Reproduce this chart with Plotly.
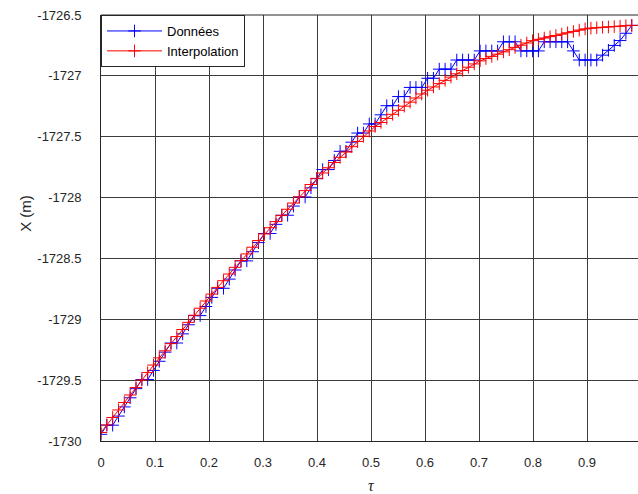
import plotly.graph_objects as go

# Parameter tau (sample positions)
tau = [0.0, 0.0108, 0.0216, 0.0324, 0.0432, 0.054, 0.0648, 0.0756, 0.0864, 0.0972,
       0.108, 0.1188, 0.1296, 0.1404, 0.1512, 0.162, 0.1728, 0.1836, 0.1944, 0.2052,
       0.216, 0.2268, 0.2376, 0.2484, 0.2592, 0.27, 0.2808, 0.2916, 0.3024, 0.3132,
       0.324, 0.3348, 0.3456, 0.3564, 0.3672, 0.378, 0.3888, 0.3996, 0.4104, 0.4212,
       0.432, 0.4428, 0.4536, 0.4644, 0.4752, 0.486, 0.4968, 0.5076, 0.5184, 0.5292,
       0.54, 0.5508, 0.5616, 0.5724, 0.5832, 0.594, 0.6048, 0.6156, 0.6264, 0.6372,
       0.648, 0.6588, 0.6696, 0.6804, 0.6912, 0.702, 0.7128, 0.7236, 0.7344, 0.7452,
       0.756, 0.7668, 0.7776, 0.7884, 0.7992, 0.81, 0.8208, 0.8316, 0.8424, 0.8532,
       0.864, 0.8748, 0.8856, 0.8964, 0.9072, 0.918, 0.9288, 0.9396, 0.9504, 0.9612,
       0.972, 0.9828]

# Measured data (blue, "Données")
x_data = [-1729.945, -1729.87, -1729.87, -1729.795, -1729.72, -1729.645, -1729.57, -1729.495, -1729.495, -1729.42,
          -1729.345, -1729.27, -1729.195, -1729.195, -1729.12, -1729.045, -1728.97, -1728.97, -1728.895, -1728.82,
          -1728.745, -1728.745, -1728.67, -1728.595, -1728.52, -1728.52, -1728.445, -1728.37, -1728.295, -1728.295,
          -1728.22, -1728.145, -1728.145, -1728.07, -1727.995, -1727.995, -1727.92, -1727.845, -1727.77, -1727.77,
          -1727.695, -1727.62, -1727.62, -1727.545, -1727.47, -1727.47, -1727.395, -1727.395, -1727.32, -1727.245,
          -1727.245, -1727.17, -1727.17, -1727.095, -1727.095, -1727.095, -1727.02, -1727.02, -1726.945, -1726.945,
          -1726.945, -1726.87, -1726.87, -1726.87, -1726.87, -1726.795, -1726.795, -1726.795, -1726.795, -1726.72,
          -1726.72, -1726.72, -1726.795, -1726.795, -1726.795, -1726.795, -1726.72, -1726.72, -1726.72, -1726.72,
          -1726.72, -1726.795, -1726.87, -1726.87, -1726.87, -1726.87, -1726.83, -1726.79, -1726.75, -1726.71,
          -1726.65, -1726.585]

# Interpolated curve (red, "Interpolation")
x_interp = [-1729.930, -1729.868, -1729.807, -1729.745, -1729.684, -1729.622, -1729.561, -1729.499, -1729.438, -1729.376,
            -1729.317, -1729.259, -1729.200, -1729.142, -1729.084, -1729.025, -1728.967, -1728.909, -1728.850, -1728.793,
            -1728.738, -1728.683, -1728.628, -1728.573, -1728.518, -1728.463, -1728.408, -1728.353, -1728.299, -1728.248,
            -1728.197, -1728.146, -1728.096, -1728.045, -1727.994, -1727.943, -1727.893, -1727.842, -1727.798, -1727.755,
            -1727.712, -1727.669, -1727.626, -1727.582, -1727.539, -1727.496, -1727.453, -1727.416, -1727.383, -1727.350,
            -1727.316, -1727.283, -1727.249, -1727.216, -1727.182, -1727.149, -1727.118, -1727.091, -1727.064, -1727.037,
            -1727.010, -1726.983, -1726.956, -1726.929, -1726.902, -1726.877, -1726.858, -1726.840, -1726.822, -1726.803,
            -1726.785, -1726.766, -1726.748, -1726.730, -1726.711, -1726.700, -1726.689, -1726.678, -1726.668, -1726.657,
            -1726.646, -1726.635, -1726.624, -1726.614, -1726.608, -1726.605, -1726.601, -1726.598, -1726.595, -1726.592,
            -1726.588, -1726.585]

x_tick_vals = [0, 0.1, 0.2, 0.3, 0.4, 0.5, 0.6, 0.7, 0.8, 0.9]
x_tick_text = ["0", "0.1", "0.2", "0.3", "0.4", "0.5", "0.6", "0.7", "0.8", "0.9"]
y_tick_vals = [-1730, -1729.5, -1729, -1728.5, -1728, -1727.5, -1727, -1726.5]
y_tick_text = ["-1730", "-1729.5", "-1729", "-1728.5", "-1728", "-1727.5", "-1727", "-1726.5"]

FONT = "Liberation Sans, Arial, sans-serif"
AX = "#262626"
GRID = "#3c3c3c"

fig = go.Figure()
fig.add_trace(go.Scatter(
    x=tau, y=x_data, mode="lines+markers", name="Données",
    line=dict(color="#0000FF", width=1),
    marker=dict(symbol="cross-thin", size=9, color="#0000FF", line=dict(width=1, color="#0000FF")),
))
fig.add_trace(go.Scatter(
    x=tau, y=x_interp, mode="lines+markers", name="Interpolation",
    line=dict(color="#FF0000", width=1),
    marker=dict(symbol="cross-thin", size=9, color="#FF0000", line=dict(width=1, color="#FF0000")),
))

fig.update_layout(
    width=638, height=494,
    margin=dict(l=101, r=0, t=15, b=53, pad=0),
    paper_bgcolor="white", plot_bgcolor="white",
    font=dict(family=FONT, size=13, color=AX),
    showlegend=True,
    legend=dict(x=0, y=1, xanchor="left", yanchor="top",
                bgcolor="white", bordercolor=AX, borderwidth=1,
                font=dict(family=FONT, size=13, color="black"),
                itemwidth=55, tracegroupgap=0),
    xaxis=dict(range=[0, 0.9944], tickvals=x_tick_vals, ticktext=x_tick_text,
               automargin=False,
               showgrid=True, gridcolor=GRID, gridwidth=1, zeroline=False,
               showline=True, linecolor=AX, linewidth=1, ticks="",
               ticklabelstandoff=9, tickfont=dict(size=13, color=AX)),
    yaxis=dict(range=[-1730, -1726.5], tickvals=y_tick_vals, ticktext=y_tick_text,
               automargin=False,
               showgrid=True, gridcolor=GRID, gridwidth=1, zeroline=False,
               showline=True, linecolor=AX, linewidth=1, ticks="",
               ticklabelstandoff=16, tickfont=dict(size=13, color=AX)),
)

# top box line
fig.add_shape(type="line", xref="paper", yref="paper", x0=0, x1=1, y0=1, y1=1,
              line=dict(color=AX, width=1))

# axis titles
fig.add_annotation(text="X (m)", xref="paper", yref="paper", x=-0.142, y=0.535,
                   textangle=-90, showarrow=False, xanchor="center", yanchor="middle",
                   font=dict(family=FONT, size=15, color=AX))
fig.add_annotation(text="<i>τ</i>", xref="x", yref="paper", x=0.5, y=-0.105,
                   showarrow=False, xanchor="center", yanchor="middle",
                   font=dict(family="Liberation Serif, Times New Roman, serif", size=16, color=AX))

fig.write_html("out.html", config={"displayModeBar": False},
               post_script="document.body.style.margin='0';document.body.style.overflow='hidden';")
